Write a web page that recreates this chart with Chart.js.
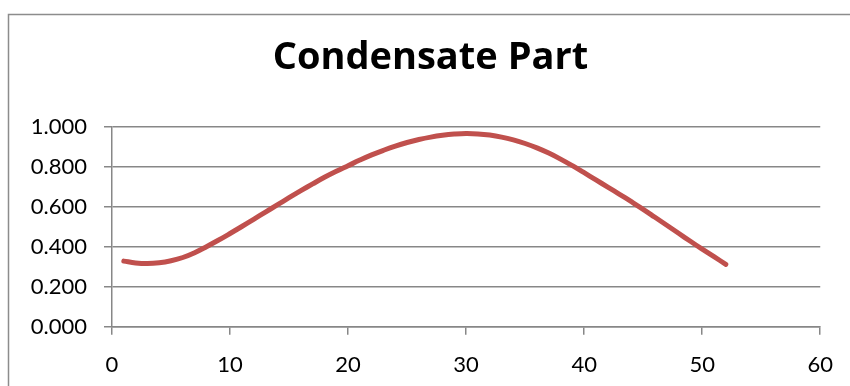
<!DOCTYPE html>
<html>
<head>
<meta charset="utf-8">
<script src="https://cdn.jsdelivr.net/npm/chart.js@4.4.1/dist/chart.umd.min.js"></script>
<style>
  html, body { margin: 0; padding: 0; background: #ffffff; }
  #wrap { position: relative; width: 850px; height: 386px; }
</style>
</head>
<body>
<div id="wrap"><canvas id="chart" width="850" height="386"></canvas></div>
<script>
// Sample index along the x axis
const positions = [
  1, 2, 3, 4, 5, 6, 7, 8, 9, 10,
  11, 12, 13, 14, 15, 16, 17, 18, 19, 20,
  21, 22, 23, 24, 25, 26, 27, 28, 29, 30,
  31, 32, 33, 34, 35, 36, 37, 38, 39, 40,
  41, 42, 43, 44, 45, 46, 47, 48, 49, 50,
  51, 52
];

// Condensate fraction at each position
const condensate = [
  0.328, 0.319, 0.316, 0.320, 0.330, 0.346, 0.370, 0.400, 0.432, 0.466,
  0.501, 0.537, 0.573, 0.609, 0.645, 0.680, 0.714, 0.747, 0.777, 0.805,
  0.833, 0.859, 0.882, 0.903, 0.921, 0.936, 0.948, 0.957, 0.963, 0.966,
  0.964, 0.958, 0.948, 0.934, 0.916, 0.894, 0.868, 0.838, 0.805, 0.770,
  0.734, 0.698, 0.662, 0.625, 0.587, 0.547, 0.507, 0.467, 0.427, 0.388,
  0.350, 0.312
];

const xTicks = [0, 10, 20, 30, 40, 50, 60];
const yTicks = [0.0, 0.2, 0.4, 0.6, 0.8, 1.0];

const chartTitle = 'Condensate Part';

const points = positions.map((x, i) => ({ x: x, y: condensate[i] }));

const GRID = '#878787';
const FONT = 'Lato, "Open Sans", sans-serif';
const TITLE_FONT = '"Open Sans", Lato, sans-serif';

// Outer frame of the chart object (left and top edges)
const framePlugin = {
  id: 'frame',
  beforeDraw(chart) {
    const ctx = chart.ctx;
    ctx.save();
    ctx.strokeStyle = '#8c8c8c';
    ctx.lineWidth = 1.5;
    ctx.beginPath();
    ctx.moveTo(8.5, chart.height + 2);
    ctx.lineTo(8.5, 14.5);
    ctx.lineTo(chart.width + 2, 14.5);
    ctx.stroke();
    ctx.restore();
  }
};

// Centre the title on the whole framed object rather than the padded layout box
const titleCentrePlugin = {
  id: 'titleCentre',
  afterLayout(chart) {
    const t = chart.titleBlock;
    if (t) {
      t.left = 11;
      t.right = 850;
      t.width = t.right - t.left;
    }
  }
};

new Chart(document.getElementById('chart'), {
  type: 'scatter',
  data: {
    datasets: [{
      data: points,
      showLine: true,
      borderColor: '#c0504d',
      backgroundColor: '#c0504d',
      borderWidth: 5,
      borderCapStyle: 'round',
      borderJoinStyle: 'round',
      pointRadius: 0,
      pointHoverRadius: 0,
      tension: 0.4
    }]
  },
  options: {
    responsive: false,
    animation: false,
    events: [],
    layout: { padding: { left: 0, right: 29, top: 0, bottom: 0 } },
    plugins: {
      legend: { display: false },
      tooltip: { enabled: false },
      title: {
        display: true,
        text: chartTitle,
        color: '#000000',
        font: { family: TITLE_FONT, size: 38, weight: 'bold', lineHeight: 1.2 },
        padding: { top: 35.5, bottom: 45.6 }
      }
    },
    scales: {
      x: {
        type: 'linear',
        min: 0,
        max: 60,
        afterBuildTicks(axis) { axis.ticks = xTicks.map(v => ({ value: v })); },
        afterFit(axis) { axis.height = 59.3; },
        border: { display: true, color: GRID, width: 1.5 },
        grid: { display: true, drawOnChartArea: false, drawTicks: true, tickLength: 8, color: GRID, lineWidth: 1.5 },
        ticks: { color: '#000000', font: { family: FONT, size: 22 }, padding: 17, maxRotation: 0 }
      },
      y: {
        type: 'linear',
        min: 0,
        max: 1,
        afterBuildTicks(axis) { axis.ticks = yTicks.map(v => ({ value: v })); },
        afterFit(axis) { axis.width = 112; },
        border: { display: true, color: GRID, width: 1.5 },
        grid: { display: true, drawTicks: true, tickLength: 8, color: GRID, lineWidth: 1.5 },
        ticks: {
          color: '#000000',
          font: { family: FONT, size: 22 },
          padding: 17,
          callback: v => Number(v).toFixed(3)
        }
      }
    }
  },
  plugins: [framePlugin, titleCentrePlugin]
});
</script>
</body>
</html>
